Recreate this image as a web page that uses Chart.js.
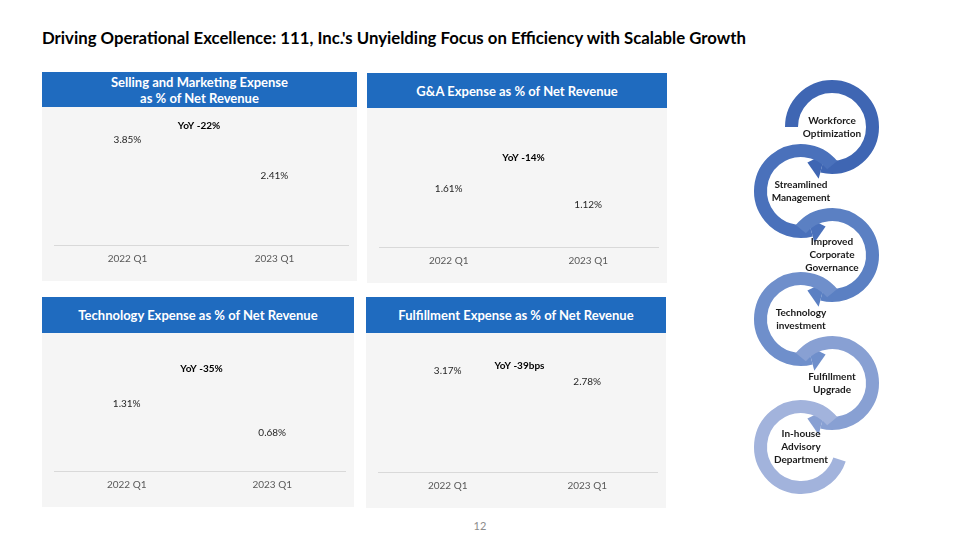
<!DOCTYPE html>
<html>
<head>
<meta charset="utf-8">
<script src="https://cdn.jsdelivr.net/npm/chart.js@4"></script>
<style>
  body { margin: 0; width: 960px; height: 540px; background: #fff; font-family: Lato, "Open Sans", sans-serif; position: relative; overflow: hidden; }
  #title { position: absolute; left: 42px; top: 27px; font-size: 16.75px; font-weight: bold; color: #000; white-space: nowrap; }
  .panel { position: absolute; background: #f5f5f5; }
  .head { position: absolute; left: 0; top: 0; right: 0; background: #1f6bbf; color: #fff; font-weight: bold; font-size: 13px; line-height: 16px; display: flex; align-items: center; justify-content: center; text-align: center; }
  .panel canvas { position: absolute; left: 0; }
  #page { position: absolute; left: 0; width: 960px; top: 519px; text-align: center; font-size: 11px; color: #8c8c8c; }
  #cycle { position: absolute; left: 730px; top: 70px; }
</style>
</head>
<body>
<div id="title">Driving Operational Excellence: 111, Inc.'s Unyielding Focus on Efficiency with Scalable Growth</div>

<div class="panel" style="left:42px;top:72px;width:315px;height:209px;">
  <div class="head" style="height:35px;">Selling and Marketing Expense<br>as % of Net Revenue</div>
  <canvas id="c1" width="315" height="174" style="top:35px;"></canvas>
</div>
<div class="panel" style="left:367px;top:73px;width:300px;height:210px;">
  <div class="head" style="height:35px;">G&amp;A Expense as % of Net Revenue</div>
  <canvas id="c2" width="300" height="175" style="top:35px;"></canvas>
</div>
<div class="panel" style="left:42px;top:297px;width:312px;height:210px;">
  <div class="head" style="height:36px;">Technology Expense as % of Net Revenue</div>
  <canvas id="c3" width="312" height="174" style="top:36px;"></canvas>
</div>
<div class="panel" style="left:366px;top:297px;width:300px;height:211px;">
  <div class="head" style="height:36px;">Fulfillment Expense as % of Net Revenue</div>
  <canvas id="c4" width="300" height="175" style="top:36px;"></canvas>
</div>

<canvas id="cycle" width="200" height="440"></canvas>
<div id="page">12</div>

<script>
const quarters = ["2022 Q1", "2023 Q1"];
const sellingMarketing = [3.85, 2.41];
const generalAdmin = [1.61, 1.12];
const technology = [1.31, 0.68];
const fulfillment = [3.17, 2.78];
const yoyLabels = ["YoY -22%", "YoY -14%", "YoY -35%", "YoY -39bps"];
const cycleSteps = [
  ["Workforce", "Optimization"],
  ["Streamlined", "Management"],
  ["Improved", "Corporate", "Governance"],
  ["Technology", "investment"],
  ["Fulfillment", "Upgrade"],
  ["In-house", "Advisory", "Department"]
];

// labels over the (invisible) bars + the YoY note
const labelPlugin = {
  id: "valueLabels",
  afterDatasetsDraw(chart, args, opts) {
    const ctx = chart.ctx;
    const meta = chart.getDatasetMeta(0);
    ctx.save();
    ctx.textAlign = "center";
    ctx.textBaseline = "middle";
    ctx.fillStyle = "#262626";
    ctx.font = "10px Lato";
    meta.data.forEach((bar, i) => {
      ctx.fillText(chart.data.datasets[0].data[i].toFixed(2) + "%", bar.x, bar.y - 8);
    });
    const y = chart.scales.y.getPixelForValue(opts.at);
    const x = (chart.chartArea.left + chart.chartArea.right) / 2 + opts.dx;
    ctx.font = "bold 10px Lato";
    ctx.fillStyle = "#000";
    ctx.fillText(opts.text, x, y);
    ctx.restore();
  }
};

function wykres(chart_id, values, yoy, yMax, yoyAt, yoyDx) {
  let ctx = document.getElementById(chart_id).getContext("2d");
  return new Chart(ctx, {
    type: "bar",
    data: {
      labels: quarters,
      datasets: [{ data: values, backgroundColor: "rgba(245,245,245,0)", borderWidth: 0 }]
    },
    options: {
      responsive: false,
      animation: false,
      layout: { padding: { top: 12, left: 12, right: 9, bottom: 8 } },
      scales: {
        x: {
          grid: { display: false, drawTicks: false },
          border: { display: true, color: "#d9d9d9", width: 1 },
          ticks: { color: "#595959", font: { family: "Lato", size: 10 }, padding: 8 }
        },
        y: { display: false, min: 0, max: yMax }
      },
      plugins: {
        legend: { display: false },
        tooltip: { enabled: false },
        valueLabels: { text: yoy, at: yoyAt, dx: yoyDx }
      }
    },
    plugins: [labelPlugin]
  });
}

wykres("c1", sellingMarketing, yoyLabels[0], 5, 4.72, -2);
wykres("c2", generalAdmin, yoyLabels[1], 4.1, 2.87, 5);
wykres("c3", technology, yoyLabels[2], 2.8, 2.27, 2);
wykres("c4", fulfillment, yoyLabels[3], 4.3, 3.6, 2);

// circular arrow flow on the right
(function drawCycle() {
  const ctx = document.getElementById("cycle").getContext("2d");
  const colors = ["#3f66b3", "#4a71bb", "#5b80c3", "#6f8fcb", "#88a0d3", "#a2b3dc"];
  const r = 40.5, w = 13;
  cycleSteps.forEach((lines, i) => {
    const odd = i % 2 === 0;
    const last = i === cycleSteps.length - 1;
    const cx = odd ? 102 : 71;
    const cy = 57 + i * 64;
    let a0, a1, ccw;
    if (odd) { a0 = i === 0 ? Math.PI : Math.PI * 1.22; a1 = Math.PI * 0.58; ccw = false; }
    else { a0 = -Math.PI * 0.22; a1 = last ? Math.PI * 0.1 : Math.PI * 0.42; ccw = true; }
    ctx.strokeStyle = colors[i];
    ctx.fillStyle = colors[i];
    ctx.lineWidth = w;
    ctx.beginPath();
    ctx.arc(cx, cy, r, a0, a1, ccw);
    ctx.stroke();
    if (!last) {
      // arrow head
      const px = cx + r * Math.cos(a1), py = cy + r * Math.sin(a1);
      const dir = ccw ? -1 : 1;
      const tx = -Math.sin(a1) * dir, ty = Math.cos(a1) * dir;
      const nx = Math.cos(a1), ny = Math.sin(a1);
      ctx.beginPath();
      ctx.moveTo(px + nx * 13, py + ny * 13);
      ctx.lineTo(px + tx * 15, py + ty * 15);
      ctx.lineTo(px - nx * 13, py - ny * 13);
      ctx.closePath();
      ctx.fill();
    }
    // text
    ctx.fillStyle = "#1a1a1a";
    ctx.font = "bold 10px Lato";
    ctx.textAlign = "center";
    ctx.textBaseline = "middle";
    const start = cy - (lines.length - 1) * 6.5;
    lines.forEach((t, k) => ctx.fillText(t, cx, start + k * 13));
  });
})();
</script>
</body>
</html>
